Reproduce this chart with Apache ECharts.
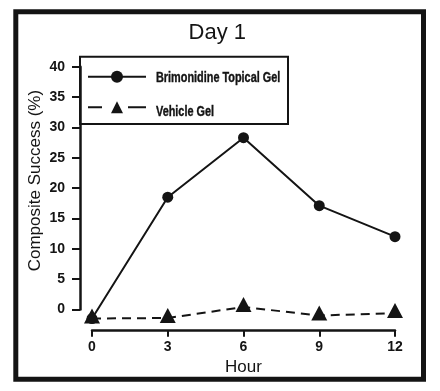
<!DOCTYPE html>
<html>
<head>
<meta charset="utf-8">
<script src="https://cdn.jsdelivr.net/npm/echarts@6/dist/echarts.min.js"></script>
<style>
html,body{margin:0;padding:0;background:#fff;}
#chart{width:440px;height:391px;}
</style>
</head>
<body>
<div id="chart"></div>
<script>
// ---- data ----
const hours = [0, 3, 6, 9, 12];
const brimonidine = [-1.5, 18.5, 28.3, 17.1, 12.0];
const vehicle = [-1.5, -1.4, 0.4, -1.0, -0.6];
const seriesNames = ['Brimonidine Topical Gel', 'Vehicle Gel'];
const titleText = 'Day 1';
const xName = 'Hour';
const yName = 'Composite Success (%)';

const INK = '#141414';
const SANS = '"Liberation Sans", Arial, Helvetica, sans-serif';

const legendRowsY = [78.3, 111.7];

const chart = echarts.init(document.getElementById('chart'), null, {renderer: 'canvas'});
chart.setOption({
  animation: false,
  backgroundColor: '#fff',
  title: {
    text: titleText,
    left: 217.3, top: 22, textAlign: 'center', padding: 0,
    textStyle: {fontFamily: SANS, fontSize: 22, fontWeight: 'normal', color: INK}
  },
  graphic: [
    {type: 'rect', shape: {x: 15.8, y: 11.7, width: 407.7, height: 367.5},
     style: {fill: 'none', stroke: INK, lineWidth: 5}, silent: true},
    {type: 'rect', shape: {x: 80, y: 56.7, width: 208, height: 67.3},
     style: {fill: '#fff', stroke: INK, lineWidth: 2}, silent: true, z: 0}
  ].concat(seriesNames.map((n, i) => ({
     type: 'text', x: 156, y: legendRowsY[i], scaleX: 0.75, silent: true, z: 10,
     style: {text: n, x: 0, y: 0, fill: INK, stroke: INK, lineWidth: 0.4,
             font: 'bold 14.5px "Liberation Sans", Arial, sans-serif',
             verticalAlign: 'middle', textVerticalAlign: 'middle'}
  }))),
  legend: {
    orient: 'vertical', left: 87, top: 70.8, padding: 0,
    itemWidth: 58, itemHeight: 15, itemGap: 18.4,
    data: [
      {name: seriesNames[0]},
      {name: seriesNames[1], lineStyle: {type: [14, 26, 20]}}
    ],
    formatter: () => '',
    textStyle: {fontFamily: SANS, fontSize: 14, color: INK, lineHeight: 15}
  },
  grid: [
    {left: 92, right: 45, top: 66.7, bottom: 60.3},
    {left: 80, width: 10, top: 66.7, height: 242.8}
  ],
  xAxis: [
    {gridIndex: 0, type: 'value', min: 0, max: 12, interval: 3,
     axisLine: {show: true, onZero: false, lineStyle: {color: INK, width: 2.5}},
     axisTick: {show: true, inside: false, length: 6, lineStyle: {color: INK, width: 2}},
     axisLabel: {margin: 9, fontFamily: SANS, fontSize: 14, fontWeight: 'bold', color: INK},
     splitLine: {show: false},
     name: xName, nameLocation: 'middle', nameGap: 26,
     nameTextStyle: {fontFamily: SANS, fontSize: 17, color: INK}},
    {gridIndex: 1, type: 'value', show: false}
  ],
  yAxis: [
    {gridIndex: 0, type: 'value', min: -3.5, max: 40, show: false},
    {gridIndex: 1, type: 'value', min: 0, max: 40, interval: 5,
     axisLine: {show: true, onZero: false, lineStyle: {color: INK, width: 2.5}},
     axisTick: {show: true, inside: false, length: 8, lineStyle: {color: INK, width: 2}},
     axisLabel: {margin: 15, fontFamily: SANS, fontSize: 14, fontWeight: 'bold', color: INK},
     splitLine: {show: false},
     name: yName, nameLocation: 'middle', nameGap: 36,
     nameTextStyle: {fontFamily: SANS, fontSize: 17, color: INK, padding: [0, 0, 0, 15]}}
  ],
  series: [
    {name: seriesNames[0], type: 'line', xAxisIndex: 0, yAxisIndex: 0,
     data: hours.map((h, i) => [h, brimonidine[i]]),
     symbol: 'circle', symbolSize: 11, showSymbol: true,
     itemStyle: {color: INK}, lineStyle: {color: INK, width: 2}, z: 3},
    {name: seriesNames[1], type: 'line', xAxisIndex: 0, yAxisIndex: 0,
     data: hours.map((h, i) => [h, vehicle[i]]),
     symbol: 'triangle', symbolSize: [16, 15], symbolOffset: [0, -2.5], showSymbol: true,
     itemStyle: {color: INK}, lineStyle: {color: INK, width: 2, type: [9, 6]}, z: 4}
  ]
});
</script>
</body>
</html>
